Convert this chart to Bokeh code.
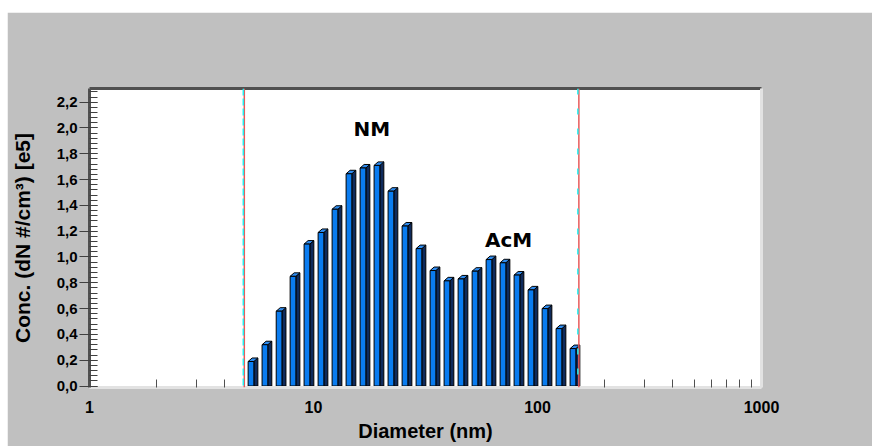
import numpy as np
from bokeh.plotting import figure
from bokeh.models import (Range1d, FixedTicker, CustomJSTickFormatter, LinearAxis,
                          Span, Label)
from bokeh.embed import file_html
from bokeh.resources import INLINE

# ---------------- data ----------------
diameters_nm = [5.26, 6.07, 7.02, 8.10, 9.35, 10.80, 12.47, 14.40, 16.63, 19.20,
                22.17, 25.61, 29.57, 34.15, 39.43, 45.54, 52.59, 60.73, 70.13,
                80.98, 93.52, 108.0, 124.7, 144.0]
conc_e5 = [0.19, 0.32, 0.58, 0.85, 1.10, 1.19, 1.37, 1.645, 1.69, 1.71,
           1.51, 1.24, 1.065, 0.895, 0.815, 0.83, 0.89, 0.98, 0.955, 0.86,
           0.745, 0.60, 0.445, 0.29]
range_limits_nm = [4.91, 153.0]
mode_labels = ["NM", "AcM"]
mode_label_diam = [18.2, 74.3]
mode_label_conc = [1.99, 1.135]
x_ticks = [1, 10, 100, 1000]
x_minor_all = [m * d for d in (1, 10, 100) for m in range(2, 10)]
y_ticks = [0.0, 0.2, 0.4, 0.6, 0.8, 1.0, 1.2, 1.4, 1.6, 1.8, 2.0, 2.2]
y_minor_ticks = [round(i * 0.04, 2) for i in range(0, 58)]
x_title = "Diameter (nm)"
y_title = "Conc. (dN #/cm³) [e5]"

# minor ticks inside the measured range are hidden behind the bars
x_minor_ticks = [t for t in x_minor_all
                 if t < range_limits_nm[0] - 0.2 or t > range_limits_nm[1] + 5]

# ---------------- geometry ----------------
W, H = 865, 434
FL, FR, FT, FB = 82, 111, 76, 59
FW, FH = W - FL - FR, H - FT - FB
X0, X1 = 1, 1000
Y0, Y1 = -0.0116, 2.306
px_x = (np.log10(X1) - np.log10(X0)) / FW   # decades per px
px_y = (Y1 - Y0) / FH                        # units per px

p = figure(width=W, height=H, x_axis_type="log",
           x_range=Range1d(X0, X1), y_range=Range1d(Y0, Y1),
           output_backend="svg", toolbar_location=None,
           min_border_left=FL, min_border_right=FR,
           min_border_top=FT, min_border_bottom=FB,
           background_fill_color="white", border_fill_color="#c0c0c0")
p.margin = (12, 0, 0, 7)
p.outline_line_color = None
p.grid.visible = False

# ---------------- 3D-looking bars ----------------
logd = np.log10(diameters_nm)
step = float(np.mean(np.diff(logd)))
half = 0.205 * step
dx = 4 * px_x
dy = 3.5 * px_y
v = np.array(conc_e5)
left = 10 ** (logd - half)
right = 10 ** (logd + half)
right_b = 10 ** (logd + half + dx)
left_b = 10 ** (logd - half + dx)

side_xs = [[r, rb, rb, r] for r, rb in zip(right, right_b)]
side_ys = [[0, 0, t + dy, t] for t in v]
top_xs = [[l, r, rb, lb] for l, r, rb, lb in zip(left, right, right_b, left_b)]
top_ys = [[t, t, t + dy, t + dy] for t in v]

p.patches(side_xs, side_ys, fill_color="#0f2b5c", line_color="black", line_width=1)
p.patches(top_xs, top_ys, fill_color="#2f8cf0", line_color="black", line_width=1)
p.quad(left=left, right=right, bottom=0, top=v, fill_color="#0a7cf0",
       line_color="black", line_width=1)

# ---------------- range limit lines ----------------
for loc, dash in zip(range_limits_nm, ["7 3", "6 14"]):
    p.add_layout(Span(location=loc, dimension="height", line_color="#e85a5a",
                      line_width=1.5))
    p.add_layout(Span(location=loc * 10 ** (-1 * px_x), dimension="height",
                      line_color="#22f0f0", line_width=1.5, line_dash=dash))

# ---------------- axes ----------------
xa = p.xaxis[0]
xa.ticker = FixedTicker(ticks=x_ticks, minor_ticks=x_minor_ticks)
xa.formatter = CustomJSTickFormatter(code="return tick.toFixed(0)")
xa.major_label_text_font = "Liberation Sans"
xa.major_label_text_font_style = "bold"
xa.major_label_text_font_size = "16px"
xa.major_label_text_color = "black"
xa.major_label_standoff = 13
xa.major_tick_in = 0
xa.major_tick_out = 0
xa.minor_tick_in = 8
xa.minor_tick_out = 0
xa.major_tick_line_color = None
xa.minor_tick_line_color = "#505050"
xa.axis_line_color = "#e2e2e2"
xa.axis_line_width = 3
xa.axis_label = x_title
xa.axis_label_text_font = "Liberation Sans"
xa.axis_label_text_font_style = "bold"
xa.axis_label_text_font_size = "20px"
xa.axis_label_text_color = "black"
xa.axis_label_standoff = 4

ya = p.yaxis[0]
ya.ticker = FixedTicker(ticks=y_ticks, minor_ticks=y_minor_ticks)
ya.formatter = CustomJSTickFormatter(code="return tick.toFixed(1).replace('.', ',')")
ya.major_label_text_font = "Liberation Sans"
ya.major_label_text_font_style = "bold"
ya.major_label_text_font_size = "15px"
ya.major_label_text_color = "black"
ya.major_label_standoff = 2
ya.major_tick_in = 8
ya.major_tick_out = 10
ya.minor_tick_in = 8
ya.minor_tick_out = 0
ya.major_tick_line_color = "#404040"
ya.minor_tick_line_color = "#404040"
ya.axis_line_color = "#505050"
ya.axis_line_width = 3
ya.axis_label = y_title
ya.axis_label_text_font = "Liberation Sans"
ya.axis_label_text_font_style = "bold"
ya.axis_label_text_font_size = "21px"
ya.axis_label_text_color = "black"
ya.axis_label_standoff = 20

for side, col in (("above", "#505050"), ("right", "#e2e2e2")):
    ax = LinearAxis(ticker=FixedTicker(ticks=[]), axis_line_color=col,
                    axis_line_width=3, major_tick_line_color=None,
                    minor_tick_line_color=None,
                    major_label_text_font_size="0px")
    p.add_layout(ax, side)

# ---------------- mode labels ----------------
for txt, xd, yd in zip(mode_labels, mode_label_diam, mode_label_conc):
    p.add_layout(Label(x=xd, y=yd, text=txt, text_align="center",
                       text_baseline="middle", text_font="DejaVu Sans",
                       text_font_style="bold", text_font_size="20px",
                       text_color="black"))

open("out.html", "w").write(file_html(p, INLINE))
